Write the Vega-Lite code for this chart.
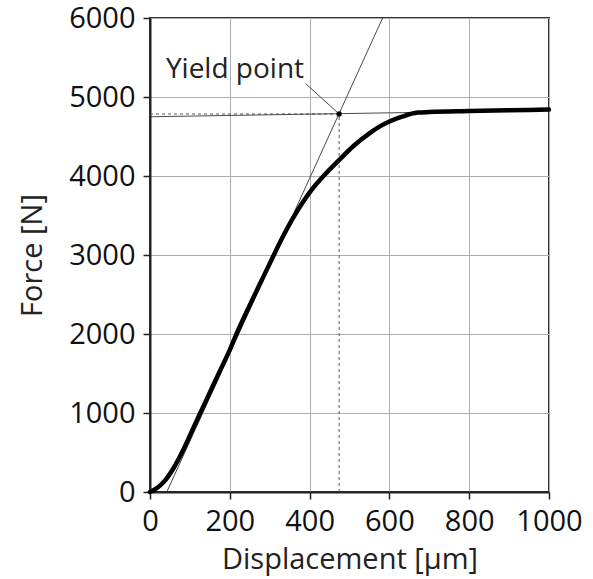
{
  "$schema": "https://vega.github.io/schema/vega-lite/v6.json",
  "width": 399,
  "height": 474,
  "autosize": {"type": "none"},
  "padding": {"left": 150, "top": 18, "right": 44, "bottom": 87},
  "background": "white",
  "config": {
    "font": "Open Sans",
    "view": {"stroke": "#333333", "strokeWidth": 2},
    "axis": {
      "grid": true,
      "gridColor": "#adadad",
      "gridWidth": 1,
      "domainColor": "#222222",
      "domainWidth": 2,
      "tickColor": "#222222",
      "tickWidth": 1.5,
      "tickSize": 7,
      "labelFont": "Open Sans",
      "labelFontSize": 29,
      "labelColor": "#111111",
      "labelOverlap": false,
      "labelFlush": false,
      "format": "d",
      "titleFont": "Open Sans",
      "titleFontSize": 29,
      "titleFontWeight": "normal",
      "titleColor": "#222222"
    }
  },
  "datasets": {
    "curve": [
      {"d": 0, "f": 0}, {"d": 10, "f": 25}, {"d": 25, "f": 80}, {"d": 40, "f": 160},
      {"d": 60, "f": 310}, {"d": 85, "f": 550}, {"d": 105, "f": 770}, {"d": 126, "f": 1000},
      {"d": 150, "f": 1260}, {"d": 175, "f": 1530}, {"d": 200, "f": 1800}, {"d": 215, "f": 1980},
      {"d": 245, "f": 2310}, {"d": 279, "f": 2670}, {"d": 307, "f": 2965}, {"d": 330, "f": 3202},
      {"d": 355, "f": 3437}, {"d": 380, "f": 3645}, {"d": 405, "f": 3825}, {"d": 436, "f": 4005},
      {"d": 475, "f": 4207}, {"d": 510, "f": 4380}, {"d": 549, "f": 4537}, {"d": 575, "f": 4625},
      {"d": 600, "f": 4690}, {"d": 630, "f": 4748}, {"d": 671, "f": 4803}, {"d": 700, "f": 4810},
      {"d": 800, "f": 4822}, {"d": 900, "f": 4832}, {"d": 1000, "f": 4842}
    ],
    "thin": [
      {"seg": "tangent", "d": 42, "f": 0}, {"seg": "tangent", "d": 583, "f": 6000},
      {"seg": "plateau", "d": 0, "f": 4750}, {"seg": "plateau", "d": 680, "f": 4806},
      {"seg": "leader", "d": 390, "f": 5170}, {"seg": "leader", "d": 474, "f": 4785}
    ],
    "dashed": [
      {"seg": "h", "d": 0, "f": 4785}, {"seg": "h", "d": 474, "f": 4785},
      {"seg": "v", "d": 474, "f": 0}, {"seg": "v", "d": 474, "f": 4785}
    ],
    "yield": [{"d": 474, "f": 4785, "label": "Yield point", "ld": 213, "lf": 5245}]
  },
  "layer": [
    {
      "data": {"name": "dashed"},
      "mark": {"type": "line", "color": "#555555", "strokeWidth": 1, "strokeDash": [3, 3]},
      "encoding": {
        "x": {"field": "d", "type": "quantitative", "scale": {"domain": [0, 1000], "nice": false},
              "axis": {"values": [0, 200, 400, 600, 800, 1000], "title": "Displacement [µm]", "labelPadding": 8, "titlePadding": 9}},
        "y": {"field": "f", "type": "quantitative", "scale": {"domain": [0, 6000], "nice": false},
              "axis": {"values": [0, 1000, 2000, 3000, 4000, 5000, 6000], "title": "Force [N]", "labelPadding": 8, "titlePadding": 21}},
        "detail": {"field": "seg"}
      }
    },
    {
      "data": {"name": "thin"},
      "mark": {"type": "line", "color": "#333333", "strokeWidth": 0.9},
      "encoding": {
        "x": {"field": "d", "type": "quantitative"},
        "y": {"field": "f", "type": "quantitative"},
        "detail": {"field": "seg"}
      }
    },
    {
      "data": {"name": "curve"},
      "mark": {"type": "line", "color": "#000000", "strokeWidth": 4.5, "strokeCap": "round", "strokeJoin": "round", "interpolate": "monotone"},
      "encoding": {
        "x": {"field": "d", "type": "quantitative"},
        "y": {"field": "f", "type": "quantitative"}
      }
    },
    {
      "data": {"name": "yield"},
      "mark": {"type": "point", "filled": true, "color": "#000000", "size": 28, "opacity": 1},
      "encoding": {
        "x": {"field": "d", "type": "quantitative"},
        "y": {"field": "f", "type": "quantitative"}
      }
    },
    {
      "data": {"name": "yield"},
      "mark": {"type": "text", "font": "Open Sans", "fontSize": 28, "color": "#222222", "align": "center", "baseline": "alphabetic"},
      "encoding": {
        "x": {"field": "ld", "type": "quantitative"},
        "y": {"field": "lf", "type": "quantitative"},
        "text": {"field": "label"}
      }
    }
  ]
}
